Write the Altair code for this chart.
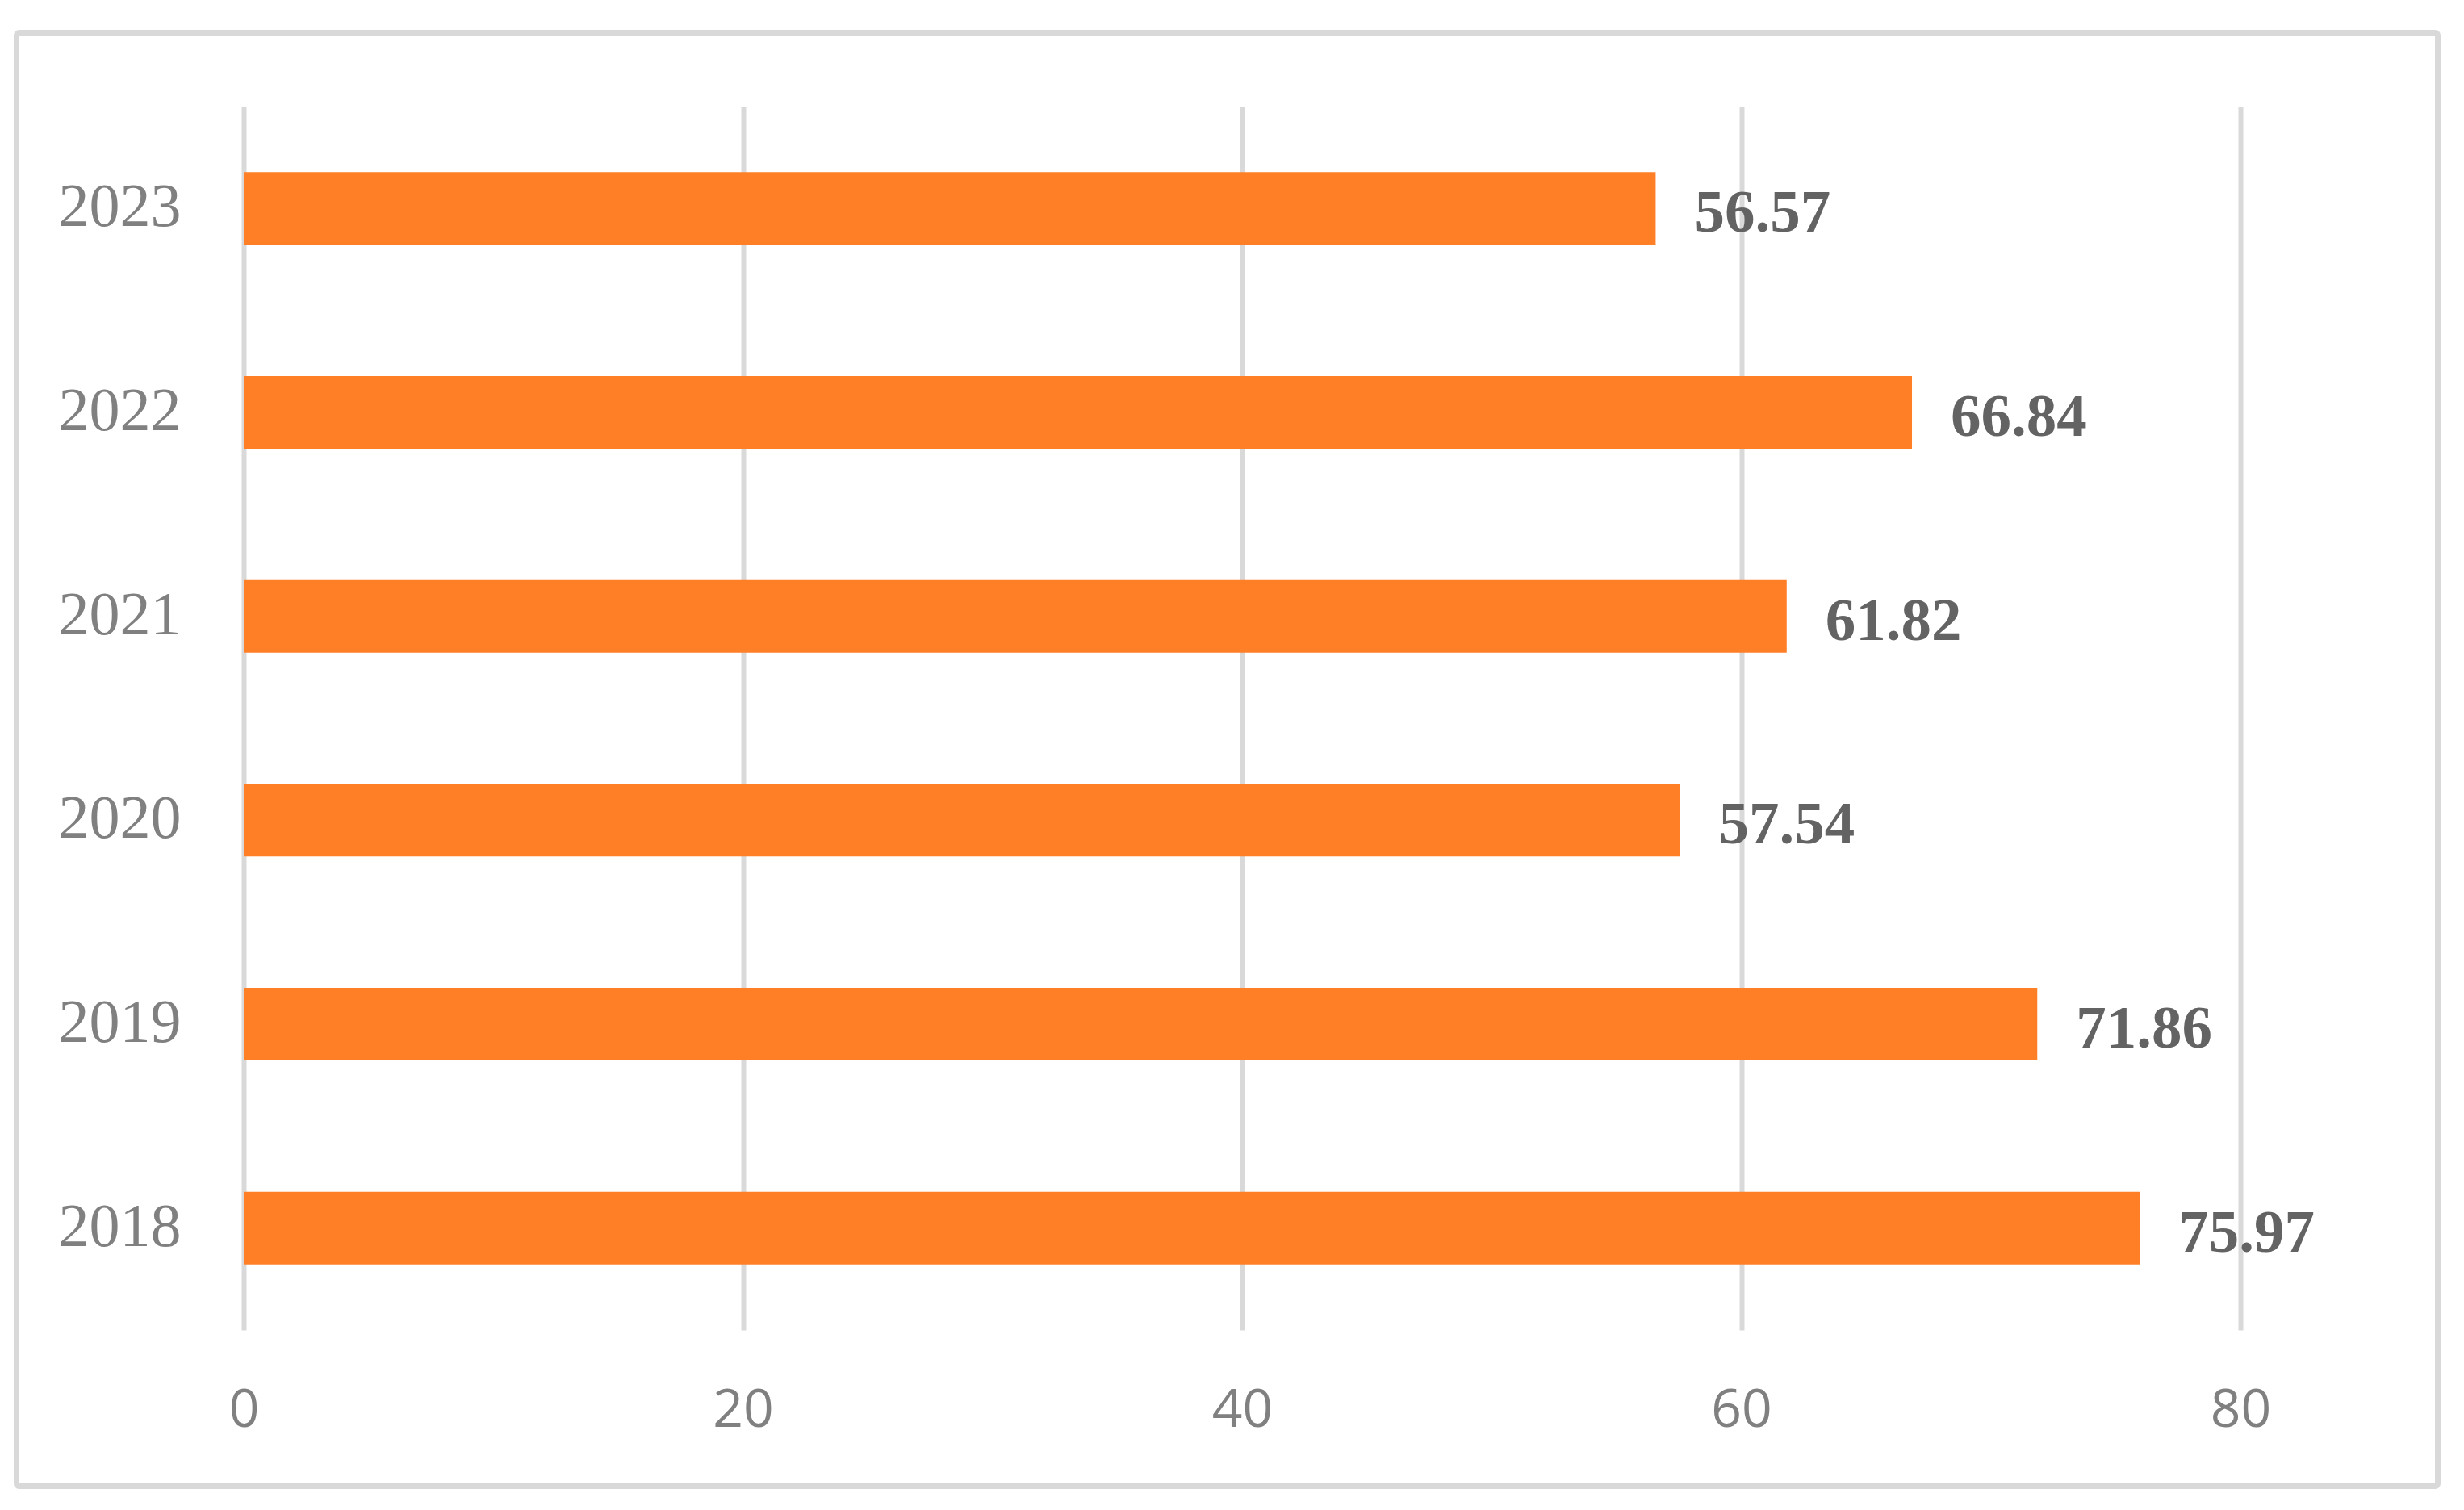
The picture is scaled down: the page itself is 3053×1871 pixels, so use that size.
import altair as alt
import pandas as pd

years = ["2023", "2022", "2021", "2020", "2019", "2018"]
values = [56.57, 66.84, 61.82, 57.54, 71.86, 75.97]
x_ticks = [0, 20, 40, 60, 80]

df = pd.DataFrame({"year": years, "value": values})
df["label"] = [f"{v:.2f}" for v in values]

W, H = 2474, 1516

y_enc = alt.Y(
    "year:N",
    sort=years,
    scale=alt.Scale(paddingInner=0.644, paddingOuter=0.322),
    axis=alt.Axis(
        title=None, domain=False, ticks=False, tickSize=0, grid=False,
        labelFont="Liberation Serif", labelFontSize=76, labelColor="#808080",
        labelPadding=78, labelBaseline="alphabetic", labelOffset=22,
    ),
)
x_enc = alt.X(
    "value:Q",
    scale=alt.Scale(domain=[0, 80], nice=False),
    axis=alt.Axis(
        title=None, values=x_ticks, domain=False, ticks=False, tickSize=0,
        grid=True, gridColor="#d9d9d9", gridWidth=6,
        labelFont="Open Sans", labelFontSize=66, labelColor="#808080",
        labelPadding=119, labelBaseline="alphabetic", labelFlush=False,
    ),
)

bars = alt.Chart(df).mark_bar(color="#FF7F27", size=90).encode(x=x_enc, y=y_enc)

labels = alt.Chart(df).mark_text(
    align="left", baseline="alphabetic", dx=48, dy=29,
    font="Liberation Serif", fontWeight="bold", fontSize=75, color="#636363",
).encode(
    x=alt.X("value:Q"),
    y=alt.Y("year:N", sort=years),
    text="label:N",
)

border = alt.Chart(pd.DataFrame({"a": [0]})).mark_rect(
    fill="transparent", stroke="#d9d9d9", strokeWidth=7, cornerRadius=3, clip=False
).encode(
    x=alt.value(-281.5), x2=alt.value(2718.5),
    y=alt.value(-91.5), y2=alt.value(1709.5),
)

chart = alt.layer(border, bars, labels).properties(
    width=W, height=H,
    autosize=alt.AutoSizeParams(type="none"),
    padding={"left": 294, "top": 124, "right": 260, "bottom": 210},
    view=alt.ViewBackground(stroke="transparent", strokeWidth=0),
).configure_view(stroke="transparent", strokeWidth=0).configure(background="white")

chart.save("out.html", embed_options={"renderer": "svg", "actions": False})
